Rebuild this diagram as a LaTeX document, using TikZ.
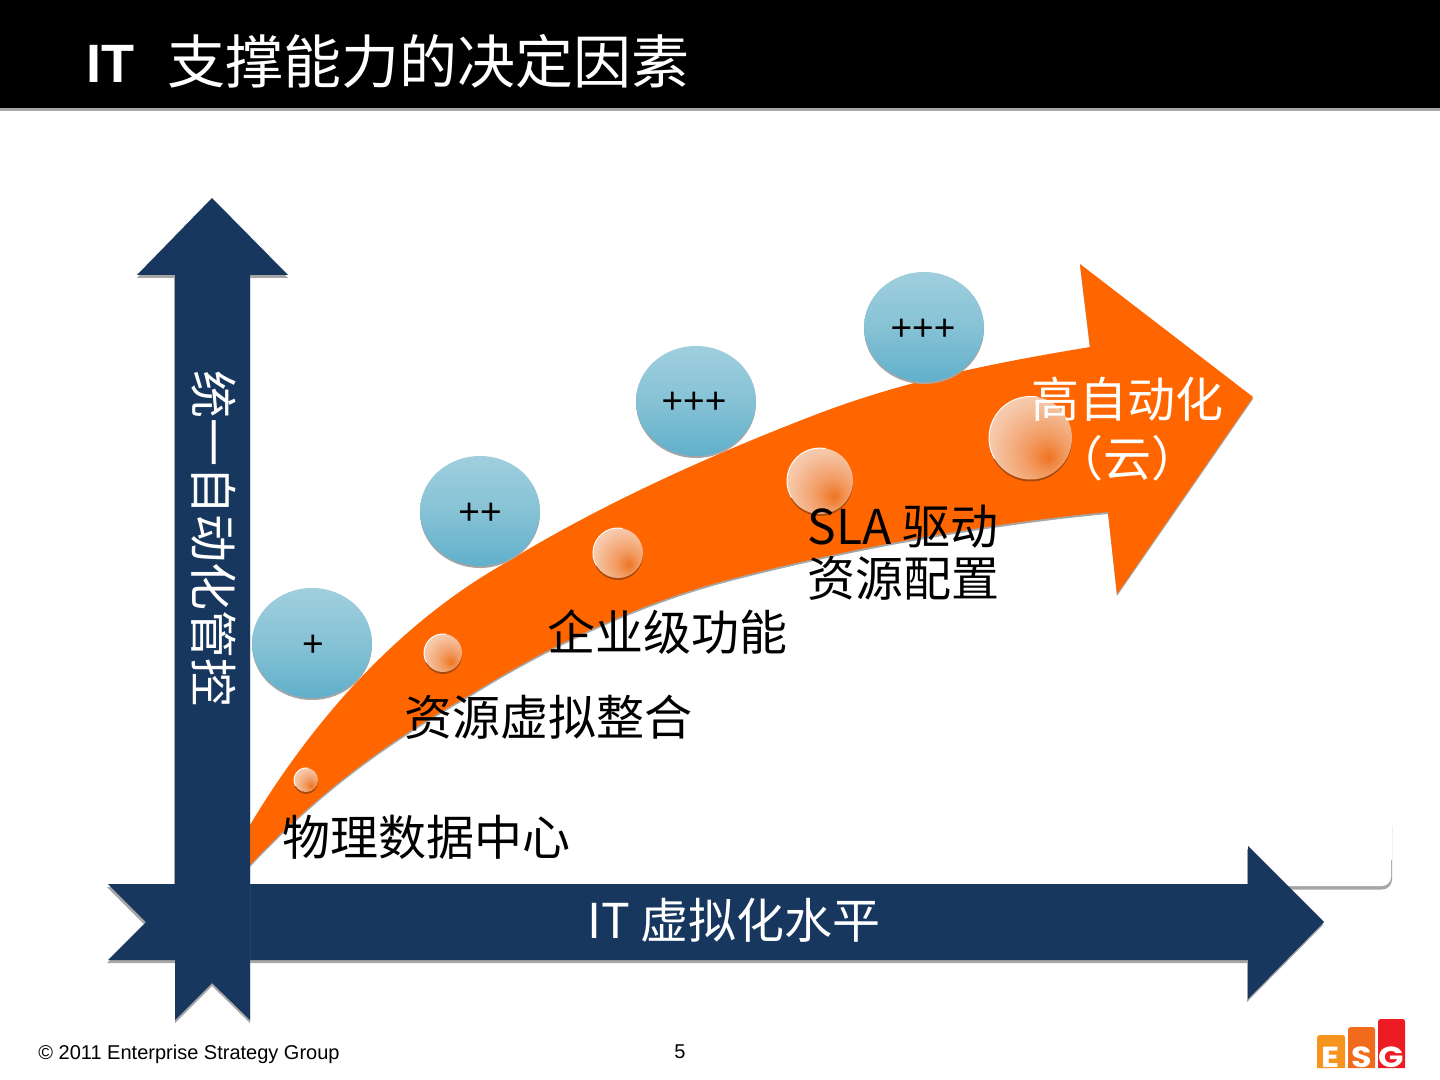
\documentclass[tikz,border=0pt]{standalone}
\usepackage{fontspec}
\setmainfont{Liberation Sans}
\newfontfamily\cjk{Noto Sans CJK SC}
\newfontfamily\logofont{Poppins}
\definecolor{navy}{HTML}{17375E}
\definecolor{orangeA}{HTML}{FF6600}
\definecolor{shad}{HTML}{A6A6A6}
\definecolor{ballcore}{HTML}{EE7522}
\definecolor{ballmid}{HTML}{F29C64}
\definecolor{ballout}{HTML}{F6C7A8}
\definecolor{ballrim}{HTML}{FAE2D2}
\definecolor{balldark}{HTML}{A9480C}
\definecolor{bubtop}{HTML}{B9DCE6}
\definecolor{bubmid}{HTML}{86C2D5}
\definecolor{bubbot}{HTML}{4DA6C6}
\definecolor{logoE}{HTML}{F7941E}
\definecolor{logoS}{HTML}{F26A1B}
\definecolor{logoG}{HTML}{ED1C24}
\pgfdeclareradialshading{sphereshade}{\pgfpoint{11bp}{-12bp}}{%
 color(0bp)=(ballcore);color(12bp)=(ballmid);color(30bp)=(ballout);color(55bp)=(ballrim);color(75bp)=(white)}
\pgfdeclareverticalshading{bubbleshade}{100bp}{%
 color(0bp)=(bubbot);color(12bp)=(bubbot);color(50bp)=(bubmid);color(100bp)=(bubtop)}
\tikzset{
  cn/.style={font=\fontsize{24pt}{26pt}\selectfont\cjk,inner sep=0pt},
  bluelabel/.style={font=\fontsize{18.5pt}{20pt}\selectfont,inner sep=0pt},
  logoletter/.style={font=\fontsize{14.5pt}{14.5pt}\selectfont\logofont\bfseries,text=white,inner sep=0pt,anchor=base,xscale=1.15},
  ballshadow/.style={fill=balldark},
  ball/.style={shading=sphereshade},
  bubble/.style={shading=bubbleshade},
}
\begin{document}
\begin{tikzpicture}[x=0.5pt,y=-0.5pt]
\useasboundingbox (0,0) rectangle (1440,1080);
\fill[white] (0,0) rectangle (1440,1080);
% title bar
\fill[shad] (0,107) rectangle (1440,111);
\fill[black] (0,0) rectangle (1440,108);
\node[anchor=base west,inner sep=0pt,text=white,font=\fontsize{27pt}{29pt}\selectfont\bfseries] (titleit) at (86,83) {IT};
\node[anchor=base west,inner sep=0pt,text=white,font=\fontsize{29pt}{31pt}\selectfont\cjk] (titlecn) at (167,84) {支撑能力的决定因素};
% faint rounded panel at right
\fill[shad] (1280,889.5) -- (1382,889.5) arc[start angle=90,end angle=0,x radius=10,y radius=10] -- (1392,860) -- (1380,860) -- (1280,860) -- cycle;
\fill[white] (1270,826) -- (1391,826) -- (1391,877) arc[start angle=0,end angle=90,x radius=9,y radius=9] -- (1270,886) -- cycle;
\draw[black!6,line width=0.5pt] (1392,826) -- (1392,875);
% orange arrow
\fill[shad,shift={(0,2)}] (250,825) .. controls (310,725) and (395,625) .. (507,562)
  .. controls (600,505) and (710,455) .. (820,413) .. controls (910,379) and (1000,362) .. (1090,347)
  -- (1080,264) -- (1253,397) -- (1117,594) -- (1108,512)
  .. controls (1000,522) and (860,545) .. (727,580) .. controls (640,603) and (550,645) .. (473,693)
  .. controls (390,740) and (320,790) .. (250,865) -- cycle;
\fill[orangeA] (250,825) .. controls (310,725) and (395,625) .. (507,562)
  .. controls (600,505) and (710,455) .. (820,413) .. controls (910,379) and (1000,362) .. (1090,347)
  -- (1080,264) -- (1253,397) -- (1117,594) -- (1108,512)
  .. controls (1000,522) and (860,545) .. (727,580) .. controls (640,603) and (550,645) .. (473,693)
  .. controls (390,740) and (320,790) .. (250,865) -- cycle;
% horizontal arrow
\fill[shad,shift={(-1,3)}] (108,884) -- (1248,884) -- (1248,846) -- (1324,922) -- (1248,999) -- (1248,960) -- (108,960) -- (146,922) -- cycle;
\fill[navy] (108,884) -- (1248,884) -- (1248,846) -- (1324,922) -- (1248,999) -- (1248,960) -- (108,960) -- (146,922) -- cycle;
% vertical arrow
\fill[shad,shift={(0,3)}] (175,1020) -- (212,983) -- (250,1020) -- (250,275) -- (288,275) -- (212,198) -- (137,275) -- (175,275) -- cycle;
\fill[shad] (174,275) rectangle (176,884);
\fill[navy] (175,1020) -- (212,983) -- (250,1020) -- (250,275) -- (288,275) -- (212,198) -- (137,275) -- (175,275) -- cycle;
% blue bubbles
\foreach \cx/\cy/\lx/\ly/\lab/\nm in {312/643/313/646/{+}/a,480/511/480/514/{++}/b,696/401/694/403/{+++}/c,924/327/923/330/{+++}/d}{
  \fill[shad] (\cx,\cy+2) ellipse[x radius=60,y radius=55];
  \path[bubble] (\cx,\cy) ellipse[x radius=60,y radius=55];
  \node[bluelabel] (bub\nm) at (\lx,\ly) {\lab};
}
% spheres
\foreach \cx/\cy/\r/\nm in {306/780/12/a,443/653/19/b,618/553/25/c,820/481/33/d,1030.5/438/41.5/e}{
  \fill[ballshadow] (\cx,\cy+2) circle[radius=\r];
  \path[ball] (\cx,\cy) circle[radius=\r];
  \draw[white,line width=0.5pt] ([shift={(150:\r)}]\cx,\cy) arc[start angle=150,end angle=280,radius=\r];
}
% labels
\node[cn,text=white,rotate=-90] (vlab) at (214,539) {统一自动化管控};
\node[cn,text=white,anchor=base] (hlab) at (734,938) {IT 虚拟化水平};
\node[cn,anchor=base west] (l1) at (282,855) {物理数据中心};
\node[cn,anchor=base west] (l2) at (404,735) {资源虚拟整合};
\node[cn,anchor=base west] (l3) at (547,650) {企业级功能};
\node[cn,anchor=base west] (l4a) at (807,544) {SLA 驱动};
\node[cn,anchor=base west] (l4b) at (807,596) {资源配置};
\node[cn,text=white,anchor=base] (l5a) at (1127,418) {高自动化};
\node[cn,text=white,anchor=base] (l5b) at (1127,476) {（云）};
% footer
\node[anchor=base west,inner sep=0pt,font=\fontsize{10pt}{12pt}\selectfont] (copy) at (38,1059) {© 2011 Enterprise Strategy Group};
\node[anchor=base,inner sep=0pt,font=\fontsize{10pt}{12pt}\selectfont] (pg) at (680,1058) {5};
% logo
\fill[logoE] (1317,1068) -- (1317,1037) -- (1319,1035) -- (1343,1035) -- (1345,1037) -- (1345,1068) -- cycle;
\fill[logoS] (1348,1068) -- (1348,1029) -- (1350,1027) -- (1373,1027) -- (1375,1029) -- (1375,1068) -- cycle;
\fill[logoG] (1378,1068) -- (1378,1021) -- (1380,1019) -- (1403,1019) -- (1405,1021) -- (1405,1068) -- cycle;
\node[logoletter] (lgE) at (1331,1067) {E};
\node[logoletter] (lgS) at (1361.5,1067) {S};
\node[logoletter] (lgG) at (1391.5,1067) {G};
\end{tikzpicture}
\end{document}
